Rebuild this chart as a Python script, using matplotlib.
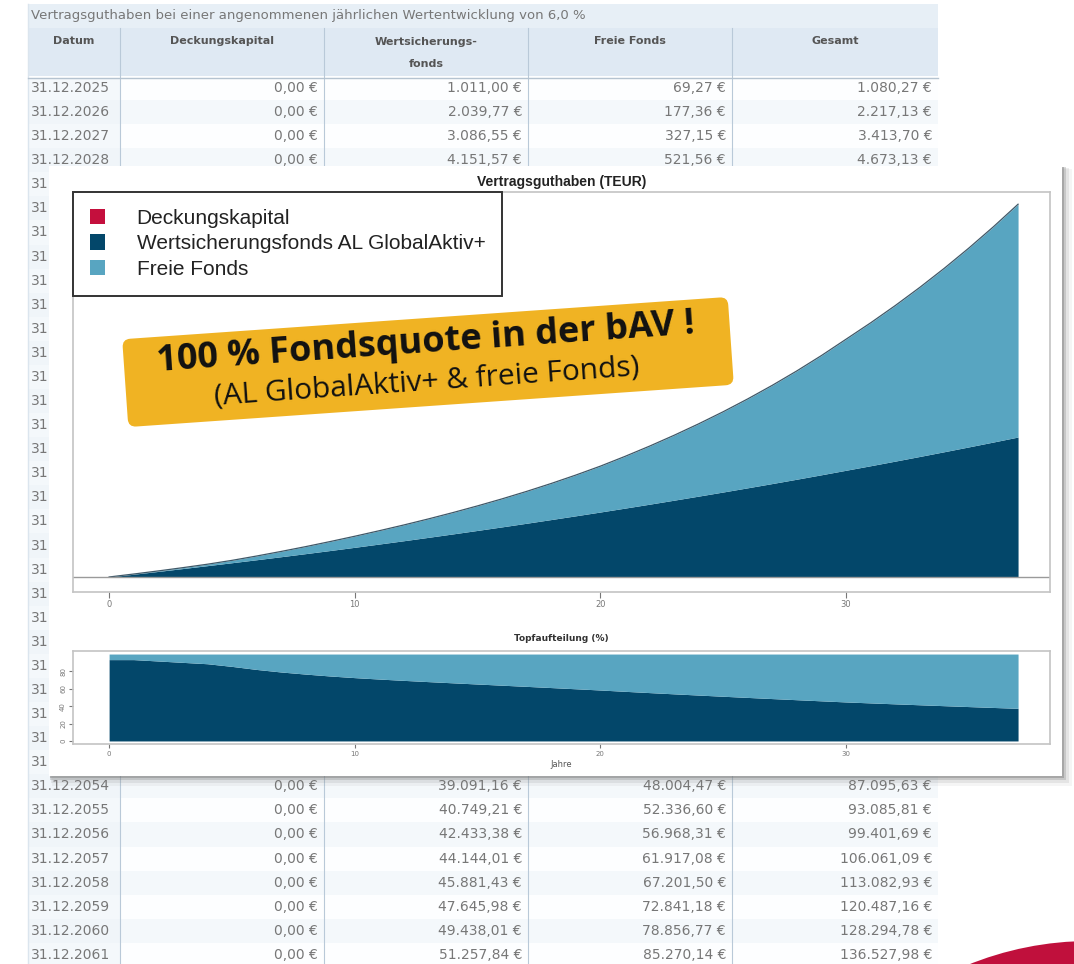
import numpy as np
import matplotlib.pyplot as plt
import matplotlib.transforms as mtransforms
from matplotlib.patches import Rectangle, FancyBboxPatch, Circle, Patch

W_PX, H_PX = 1074, 964

# ---- data (EUR), year 0 = 2024 ----
jahre = list(range(38))
kalenderjahre = [2024 + j for j in jahre]
deckungskapital = [0.0] * 38
wertsicherung = [0.0, 1011.00, 2039.77, 3086.55, 4151.57, 5220, 6310, 7420, 8550, 9700,
                 10870, 12070, 13280, 14520, 15780, 17060, 18360, 19690, 21040, 22410,
                 23800, 25220, 26660, 28130, 29620, 31130, 32670, 34230, 35820, 37440,
                 39091.16, 40749.21, 42433.38, 44144.01, 45881.43, 47645.98, 49438.01, 51257.84]
freie_fonds = [0.0, 69.27, 177.36, 327.15, 521.56, 865, 1358, 1931, 2564, 3277,
               4050, 4877, 5774, 6751, 7818, 8985, 10262, 11669, 13216, 14923,
               16800, 18947, 21264, 23771, 26478, 29405, 32572, 35989, 39686, 43683,
               48004.47, 52336.60, 56968.31, 61917.08, 67201.50, 72841.18, 78856.77, 85270.14]

caption = "Vertragsguthaben bei einer angenommenen jährlichen Wertentwicklung von 6,0 %"
col_headers = ["Datum", "Deckungskapital", "Wertsicherungs-\nfonds", "Freie Fonds", "Gesamt"]
legend_labels = ["Deckungskapital", "Wertsicherungsfonds AL GlobalAktiv+", "Freie Fonds"]
x_ticks = [0, 10, 20, 30]
pct_ticks = [0, 20, 40, 60, 80]
banner_lines = ["100 % Fondsquote in der bAV !", "(AL GlobalAktiv+ & freie Fonds)"]

RED, DARK, LIGHT = "#c40f3d", "#03476a", "#58a5c1"
ORANGE = "#f0b323"


def frac(x0, y0, x1, y1):
    # pixel box (y from top) -> figure fraction
    return [x0 / W_PX, (H_PX - y1) / H_PX, (x1 - x0) / W_PX, (y1 - y0) / H_PX]


def eur(v):
    s = f"{v:,.2f}".replace(",", "X").replace(".", ",").replace("X", ".")
    return s + " €"


fig = plt.figure(figsize=(W_PX / 100, H_PX / 100), dpi=100)

# ————— background table —————
bg = fig.add_axes([0, 0, 1, 1], zorder=0)
bg.set_xlim(0, W_PX)
bg.set_ylim(H_PX, 0)
bg.axis("off")

px0, py0, px1, py1 = 49, 166, 1062, 776   # white panel that covers the table

tx0, tx1 = 28, 938
col_edges = [28, 120, 324, 528, 732, 938]
bg.add_patch(Rectangle((tx0, 4), tx1 - tx0, 24, color="#e7eff6", lw=0))
bg.add_patch(Rectangle((tx0, 28), tx1 - tx0, 50, color="#dfe9f3", lw=0))
bg.text(31, 16, caption, fontsize=9.5, color="#777777", va="center")

row_h = 24.08
for i, jahr in enumerate(kalenderjahre[1:]):
    yc = 88 + i * row_h
    shade = "#f4f8fb" if i % 2 else "#fdfeff"
    bg.add_patch(Rectangle((tx0, yc - row_h / 2), tx1 - tx0, row_h, color=shade, lw=0))
bg.add_patch(Rectangle((tx0, 78), 92, 964 - 78, color="#eef4f9", lw=0, alpha=0.6))
for xe in col_edges[1:-1]:
    bg.plot([xe, xe], [28, 964], color="#b9c9d8", lw=0.8)
bg.plot([tx0, tx0], [4, 964], color="#dbe5ee", lw=1)
bg.plot([tx0, tx1], [78, 78], color="#b5c3d0", lw=1)

for k, lab in enumerate(col_headers):
    xc = (col_edges[k] + col_edges[k + 1]) / 2
    bg.text(xc, 41 if "\n" not in lab else 53, lab, fontsize=8, fontweight="bold",
            color="#555555", ha="center", va="center", linespacing=2.5)

for i, j in enumerate(jahre[1:], start=0):
    yc = 88 + i * row_h
    hidden = py0 + 8 < yc < py1 - 8
    if hidden:
        # only the start of the date peeks out left of the panel
        bg.text(31, yc, "31", fontsize=10, color="#777777", va="center")
        continue
    w, f, d = wertsicherung[j], freie_fonds[j], deckungskapital[j]
    vals = [d, w, f, d + w + f]
    bg.text(31, yc, f"31.12.{kalenderjahre[j]}", fontsize=10, color="#777777", va="center")
    for k, v in enumerate(vals):
        bg.text(col_edges[k + 2] - 6, yc, eur(v), fontsize=10, color="#777777",
                ha="right", va="center")

# red corner shape
bg.add_patch(Circle((1090, 1265.5), 324.5, color="#c0103c", lw=0, zorder=4))

# ————— white panel with soft shadow —————
for off, a in [(7, 0.07), (5, 0.13), (3, 0.25), (1.5, 0.4)]:
    bg.add_patch(Rectangle((px0 + off * 0.4, py0 + off * 0.4), px1 - px0 + off, py1 - py0 + off,
                           color="#777777", alpha=a, lw=0, zorder=5))
bg.add_patch(Rectangle((px0, py0), px1 - px0, py1 - py0, color="white", lw=0, zorder=6))

# ————— upper chart: Vertragsguthaben (TEUR) —————
w_t = np.array(wertsicherung) / 1000
f_t = np.array(freie_fonds) / 1000
d_t = np.array(deckungskapital) / 1000
tot = d_t + w_t + f_t

ax1 = fig.add_axes(frac(73, 192, 1050, 592), zorder=2)
ax1.fill_between(jahre, 0, d_t, color=RED, lw=0)
ax1.fill_between(jahre, d_t, d_t + w_t, color=DARK, lw=0)
ax1.fill_between(jahre, d_t + w_t, tot, color=LIGHT, lw=0)
ax1.plot(jahre, tot, color="#3f5868", lw=0.9)
ax1.axhline(0, color="#9a9a9a", lw=1)
ax1.set_xlim(-1.47, 38.3)
ax1.set_ylim(-5.5, 141)
ax1.set_xticks(x_ticks)
ax1.set_yticks([])
ax1.tick_params(axis="x", labelsize=6, colors="#777777", length=4, pad=2)
for sp in ax1.spines.values():
    sp.set_color("#c4c4c4")
    sp.set_linewidth(1.2)
ax1.set_title("Vertragsguthaben (TEUR)", fontsize=10, fontweight="bold",
              family="Liberation Sans", color="#222222", pad=4)

handles = [Patch(facecolor=c, edgecolor="none") for c in (RED, DARK, LIGHT)]
leg = ax1.legend(handles, legend_labels, loc="upper left", bbox_to_anchor=(0, 1),
                 borderaxespad=0, fancybox=False, framealpha=1, edgecolor="#333333",
                 prop={"family": "Liberation Sans", "size": 15},
                 handlelength=0.75, handleheight=0.75, handletextpad=1.5,
                 labelspacing=0.32, borderpad=0.8)
leg.get_frame().set_linewidth(1.4)
for t in leg.get_texts():
    t.set_color("#222222")

# ————— lower chart: Topfaufteilung (%) —————
pct = np.divide(w_t + d_t, tot, out=np.zeros_like(tot), where=tot > 0) * 100
pct[0] = pct[1]

ax2 = fig.add_axes(frac(73, 651, 1050, 744), zorder=2)
ax2.fill_between(jahre, 0, pct, color=DARK, lw=0)
ax2.fill_between(jahre, pct, 100, color=LIGHT, lw=0)
ax2.set_xlim(-1.47, 38.3)
ax2.set_ylim(-3.5, 103.5)
ax2.set_xticks(x_ticks)
ax2.set_yticks(pct_ticks)
ax2.tick_params(labelsize=5, colors="#777777", length=3, pad=2)
for t in ax2.get_yticklabels():
    t.set_rotation(90)
    t.set_va("center")
for sp in ax2.spines.values():
    sp.set_color("#c4c4c4")
    sp.set_linewidth(1.2)
ax2.set_title("Topfaufteilung (%)", fontsize=6.5, fontweight="bold", color="#333333", pad=7)
ax2.set_xlabel("Jahre", fontsize=6, color="#555555", labelpad=2)

# ————— overlay banner —————
ov = fig.add_axes([0, 0, 1, 1], zorder=10)
ov.set_xlim(0, W_PX)
ov.set_ylim(0, H_PX)
ov.patch.set_alpha(0)
ov.axis("off")

cx, cy, bw, bh = 428, H_PX - 362, 607, 88
rot = mtransforms.Affine2D().rotate_deg_around(cx, cy, 4) + ov.transData
ov.add_patch(FancyBboxPatch((cx - bw / 2, cy - bh / 2), bw, bh,
                            boxstyle="round,pad=0,rounding_size=8",
                            color=ORANGE, lw=0, transform=rot))
ov.text(426, H_PX - 343, banner_lines[0], rotation=4, rotation_mode="anchor",
        ha="center", va="center", fontsize=26, fontweight="bold",
        family="Open Sans", color="#111111")
ov.text(427, H_PX - 382, banner_lines[1], rotation=4, rotation_mode="anchor",
        ha="center", va="center", fontsize=21.5, family="Open Sans", color="#111111")

fig.savefig("out.png", dpi=100)
